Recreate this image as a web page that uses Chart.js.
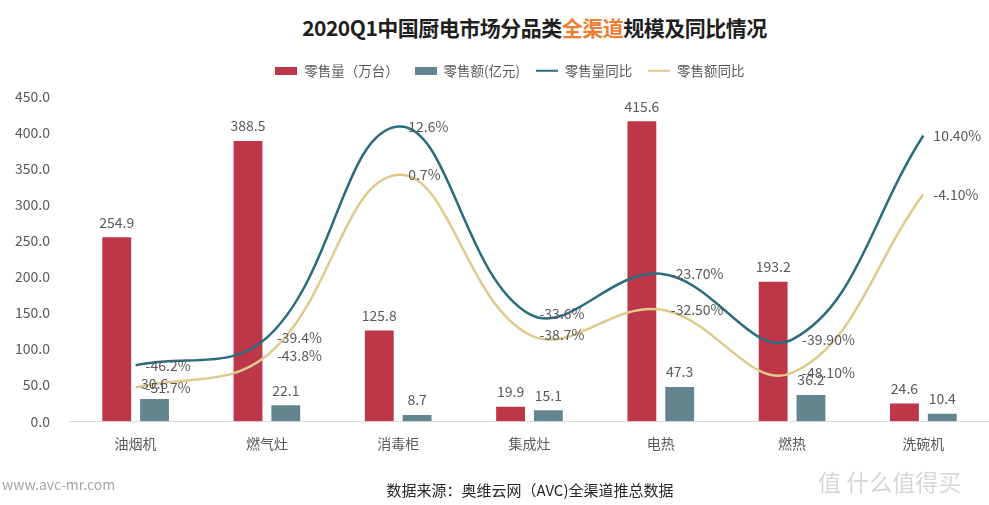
<!DOCTYPE html>
<html>
<head>
<meta charset="utf-8">
<script src="https://cdn.jsdelivr.net/npm/chart.js@4.4.1/dist/chart.umd.min.js"></script>
<style>
  html, body { margin: 0; padding: 0; background: #fff; }
  body { width: 989px; height: 505px; position: relative; overflow: hidden;
         font-family: "Noto Sans CJK SC", "Noto Sans", sans-serif; }
  #titulo { position: absolute; left: 40px; width: 989px; top: 12px; text-align: center;
            font-size: 21px; font-weight: bold; color: #1f1f1f; letter-spacing: -0.5px; }
  #titulo span { color: #ed7d31; }
  #lienzo { position: absolute; left: 0; top: 0; }
  .pie { position: absolute; }
</style>
</head>
<body>
<div id="titulo">2020Q1中国厨电市场分品类<span>全渠道</span>规模及同比情况</div>
<canvas id="lienzo" width="989" height="505"></canvas>
<div class="pie" style="left:2px; top:474px; font-size:14px; color:#a6a6a6;">www.avc-mr.com</div>
<div class="pie" style="left:0; width:1060px; top:479px; text-align:center; font-size:15px; color:#262626;">数据来源：奥维云网（AVC)全渠道推总数据</div>
<div class="pie" style="left:818px; top:464px; font-size:23px; color:#d6d6d6;">值 什么值得买</div>
<script>
// datos del grafico
const categorias = ['油烟机', '燃气灶', '消毒柜', '集成灶', '电热', '燃热', '洗碗机'];
const ventaVolumen = [254.9, 388.5, 125.8, 19.9, 415.6, 193.2, 24.6];
const ventaMonto = [30.6, 22.1, 8.7, 15.1, 47.3, 36.2, 10.4];
const volumenAnual = [-46.2, -39.4, 12.6, -33.6, -23.7, -39.9, 10.4];
const montoAnual = [-51.7, -43.8, 0.7, -38.7, -32.5, -48.1, -4.1];
const etiquetasVolumen = ['-46.2%', '-39.4%', '12.6%', '-33.6%', '-23.70%', '-39.90%', '10.40%'];
const etiquetasMonto = ['-51.7%', '-43.8%', '0.7%', '-38.7%', '-32.50%', '-48.10%', '-4.10%'];

const fuente = '"Noto Sans CJK SC", "Noto Sans", sans-serif';
const gris = '#595959';

// iconos de la leyenda (caja plana para barras, raya para lineas)
function iconoLeyenda(color, alto) {
    const c = document.createElement('canvas');
    c.width = 22;
    c.height = 8;
    const g = c.getContext('2d');
    g.fillStyle = color;
    g.fillRect(0, (8 - alto) / 2, 22, alto);
    return c;
}

// plugin sencillo para las etiquetas de valores
const etiquetasPlugin = {
    id: 'etiquetas',
    afterDatasetsDraw(chart) {
        const ctx = chart.ctx;
        ctx.save();
        ctx.font = '14px ' + fuente;
        ctx.fillStyle = gris;
        chart.data.datasets.forEach(function (ds, i) {
            const meta = chart.getDatasetMeta(i);
            meta.data.forEach(function (el, j) {
                if (ds.type === 'line') {
                    ctx.textAlign = 'left';
                    ctx.textBaseline = 'middle';
                    ctx.fillText(ds.textos[j], el.x + 10, el.y);
                } else {
                    ctx.textAlign = 'center';
                    ctx.textBaseline = 'middle';
                    ctx.fillText(ds.data[j].toFixed(1), el.x, el.y - 15);
                }
            });
        });
        ctx.restore();
    }
};

// espacio extra debajo de la leyenda y leyenda un poco a la derecha
const ajusteLeyenda = {
    id: 'ajusteLeyenda',
    beforeInit(chart) {
        const fitOriginal = chart.legend.fit;
        chart.legend.fit = function () {
            fitOriginal.bind(chart.legend)();
            this.height += 9;
        };
    },
    afterLayout(chart) {
        chart.legend.left += 14;
        chart.legend.right += 14;
    }
};

const config = {
    type: 'bar',
    data: {
        labels: categorias,
        datasets: [
            {
                label: '零售量（万台）',
                data: ventaVolumen,
                backgroundColor: '#be3748',
                yAxisID: 'y',
                order: 2,
                pointStyle: iconoLeyenda('#be3748', 8),
                categoryPercentage: 0.576,
                barPercentage: 0.763
            },
            {
                label: '零售额(亿元)',
                data: ventaMonto,
                backgroundColor: '#64858d',
                yAxisID: 'y',
                order: 2,
                pointStyle: iconoLeyenda('#64858d', 8),
                categoryPercentage: 0.576,
                barPercentage: 0.763
            },
            {
                type: 'line',
                label: '零售量同比',
                data: volumenAnual,
                textos: etiquetasVolumen,
                borderColor: '#2b6d7f',
                backgroundColor: '#2b6d7f',
                borderWidth: 2.5,
                pointRadius: 0,
                tension: 0.4,
                yAxisID: 'y2',
                order: 1,
                pointStyle: iconoLeyenda('#2b6d7f', 2)
            },
            {
                type: 'line',
                label: '零售额同比',
                data: montoAnual,
                textos: etiquetasMonto,
                borderColor: '#dfc98c',
                backgroundColor: '#dfc98c',
                borderWidth: 2.5,
                pointRadius: 0,
                tension: 0.4,
                yAxisID: 'y2',
                order: 1,
                pointStyle: iconoLeyenda('#dfc98c', 2)
            }
        ]
    },
    plugins: [etiquetasPlugin, ajusteLeyenda],
    options: {
        responsive: false,
        animation: false,
        layout: { padding: { top: 48, left: 3, right: 0, bottom: 47 } },
        plugins: {
            legend: {
                position: 'top',
                labels: {
                    usePointStyle: true,
                    pointStyleWidth: 22,
                    font: { size: 13.5, family: fuente },
                    color: gris,
                    padding: 16,
                    sort: function (a, b) { return a.datasetIndex - b.datasetIndex; }
                }
            },
            tooltip: { enabled: false }
        },
        scales: {
            x: {
                grid: { display: false },
                border: { color: '#d9d9d9' },
                ticks: { color: gris, font: { size: 14, family: fuente }, padding: 6 }
            },
            y: {
                min: 0,
                max: 450,
                grid: { display: false },
                border: { display: false },
                ticks: {
                    stepSize: 50,
                    color: gris,
                    font: { size: 14, family: fuente },
                    padding: 12,
                    callback: function (v) { return v.toFixed(1); }
                }
            },
            y2: {
                display: false,
                min: -60,
                max: 20
            }
        }
    }
};

new Chart(document.getElementById('lienzo'), config);
</script>
</body>
</html>
